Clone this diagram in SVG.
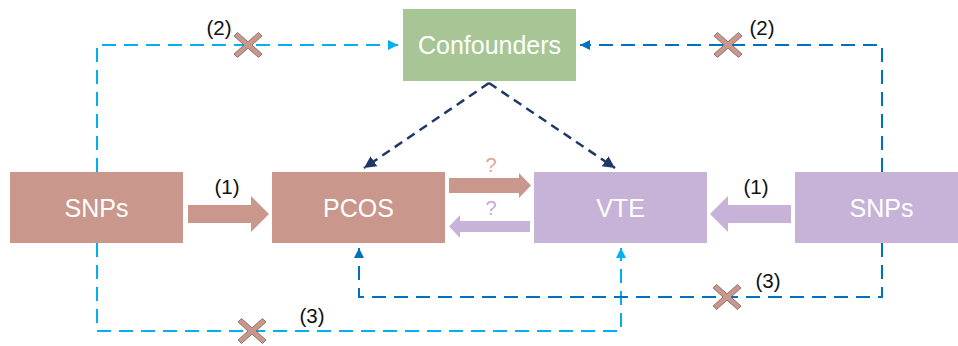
<svg xmlns="http://www.w3.org/2000/svg" width="958" height="346" viewBox="0 0 958 346">
<style>
.box text{font-family:"Liberation Sans",Arial,sans-serif;font-size:25px;fill:#fff;text-anchor:middle}
.lbl{font-family:"Liberation Sans",Arial,sans-serif;font-size:20.5px;fill:#111;text-anchor:middle}
.q{font-family:"Liberation Sans",Arial,sans-serif;font-size:20px;text-anchor:middle}
.lb{fill:none;stroke:#00B0F0;stroke-width:2;stroke-dasharray:14 8}
.db{fill:none;stroke:#0070C0;stroke-width:2;stroke-dasharray:14 8}
.nv{fill:none;stroke:#1F3868;stroke-width:2.5;stroke-dasharray:9 6}
.x{fill:#C9978B;stroke:#6b5550;stroke-width:0.7}
</style>
<defs>
<marker id="aL" markerUnits="userSpaceOnUse" markerWidth="12" markerHeight="12" refX="10" refY="5" orient="auto"><path d="M0,0 L10,5 L0,10 z" fill="#00B0F0"/></marker>
<marker id="aD" markerUnits="userSpaceOnUse" markerWidth="12" markerHeight="12" refX="10" refY="5" orient="auto"><path d="M0,0 L10,5 L0,10 z" fill="#0070C0"/></marker>
<marker id="aN" markerUnits="userSpaceOnUse" markerWidth="16" markerHeight="16" refX="12" refY="6" orient="auto"><path d="M0,0 L12,6 L0,12 z" fill="#1F3868"/></marker>
<symbol id="cross" overflow="visible"><polygon points="-14,-9 -10.5,-12.5 0,-3.2 10.5,-12.5 14,-9 4,0 14,9 10.5,12.5 0,3.2 -10.5,12.5 -14,9 -4,0"/></symbol>
</defs>
<g id="connectors">
<path class="lb" d="M97,172 V45 H398" marker-end="url(#aL)"/>
<path class="db" d="M882,172 V45 H580" marker-end="url(#aD)"/>
<path class="lb" d="M97,243 V331 H621 V248" marker-end="url(#aL)"/>
<path class="db" d="M882,243 V297 H359 V248" marker-end="url(#aD)"/>
<path class="nv" d="M489,83 L364,168" marker-end="url(#aN)"/>
<path class="nv" d="M489,83 L615,168" marker-end="url(#aN)"/>
<polygon fill="#C9978B" points="188,205 251,205 251,196 269,214 251,232 251,223 188,223"/>
<polygon fill="#C7B3D8" points="791,205 728,205 728,196 710,214 728,232 728,223 791,223"/>
<polygon fill="#C9978B" points="449,178 519,178 519,173 531,185.5 519,198 519,193 449,193"/>
<polygon fill="#C7B3D8" points="530,221 460,221 460,215 449,226.5 460,238 460,232 530,232"/>
<g class="x"><use href="#cross" x="248" y="45"/><use href="#cross" x="728" y="45"/><use href="#cross" x="252" y="331"/><use href="#cross" x="727" y="297"/></g>
<text class="lbl" x="219" y="35">(2)</text>
<text class="lbl" x="762" y="35">(2)</text>
<text class="lbl" x="227" y="194">(1)</text>
<text class="lbl" x="756" y="194">(1)</text>
<text class="lbl" x="312" y="323">(3)</text>
<text class="lbl" x="768" y="288">(3)</text>
<text class="q" x="491" y="172" fill="#D9A595">?</text>
<text class="q" x="491" y="215" fill="#C2A8D8">?</text>
</g>
<g id="confounders" class="box"><rect x="403" y="9" width="173" height="72" fill="#A8C596"/><text x="489.5" y="54">Confounders</text></g>
<g id="snps-left" class="box"><rect x="10" y="172" width="173" height="71" fill="#C9978B"/><text x="96.5" y="217">SNPs</text></g>
<g id="pcos" class="box"><rect x="272" y="172" width="173" height="71" fill="#C9978B"/><text x="358.5" y="217">PCOS</text></g>
<g id="vte" class="box"><rect x="534" y="172" width="173" height="71" fill="#C7B3D8"/><text x="620.5" y="217">VTE</text></g>
<g id="snps-right" class="box"><rect x="795" y="172" width="173" height="71" fill="#C7B3D8"/><text x="881.5" y="217">SNPs</text></g>
</svg>
